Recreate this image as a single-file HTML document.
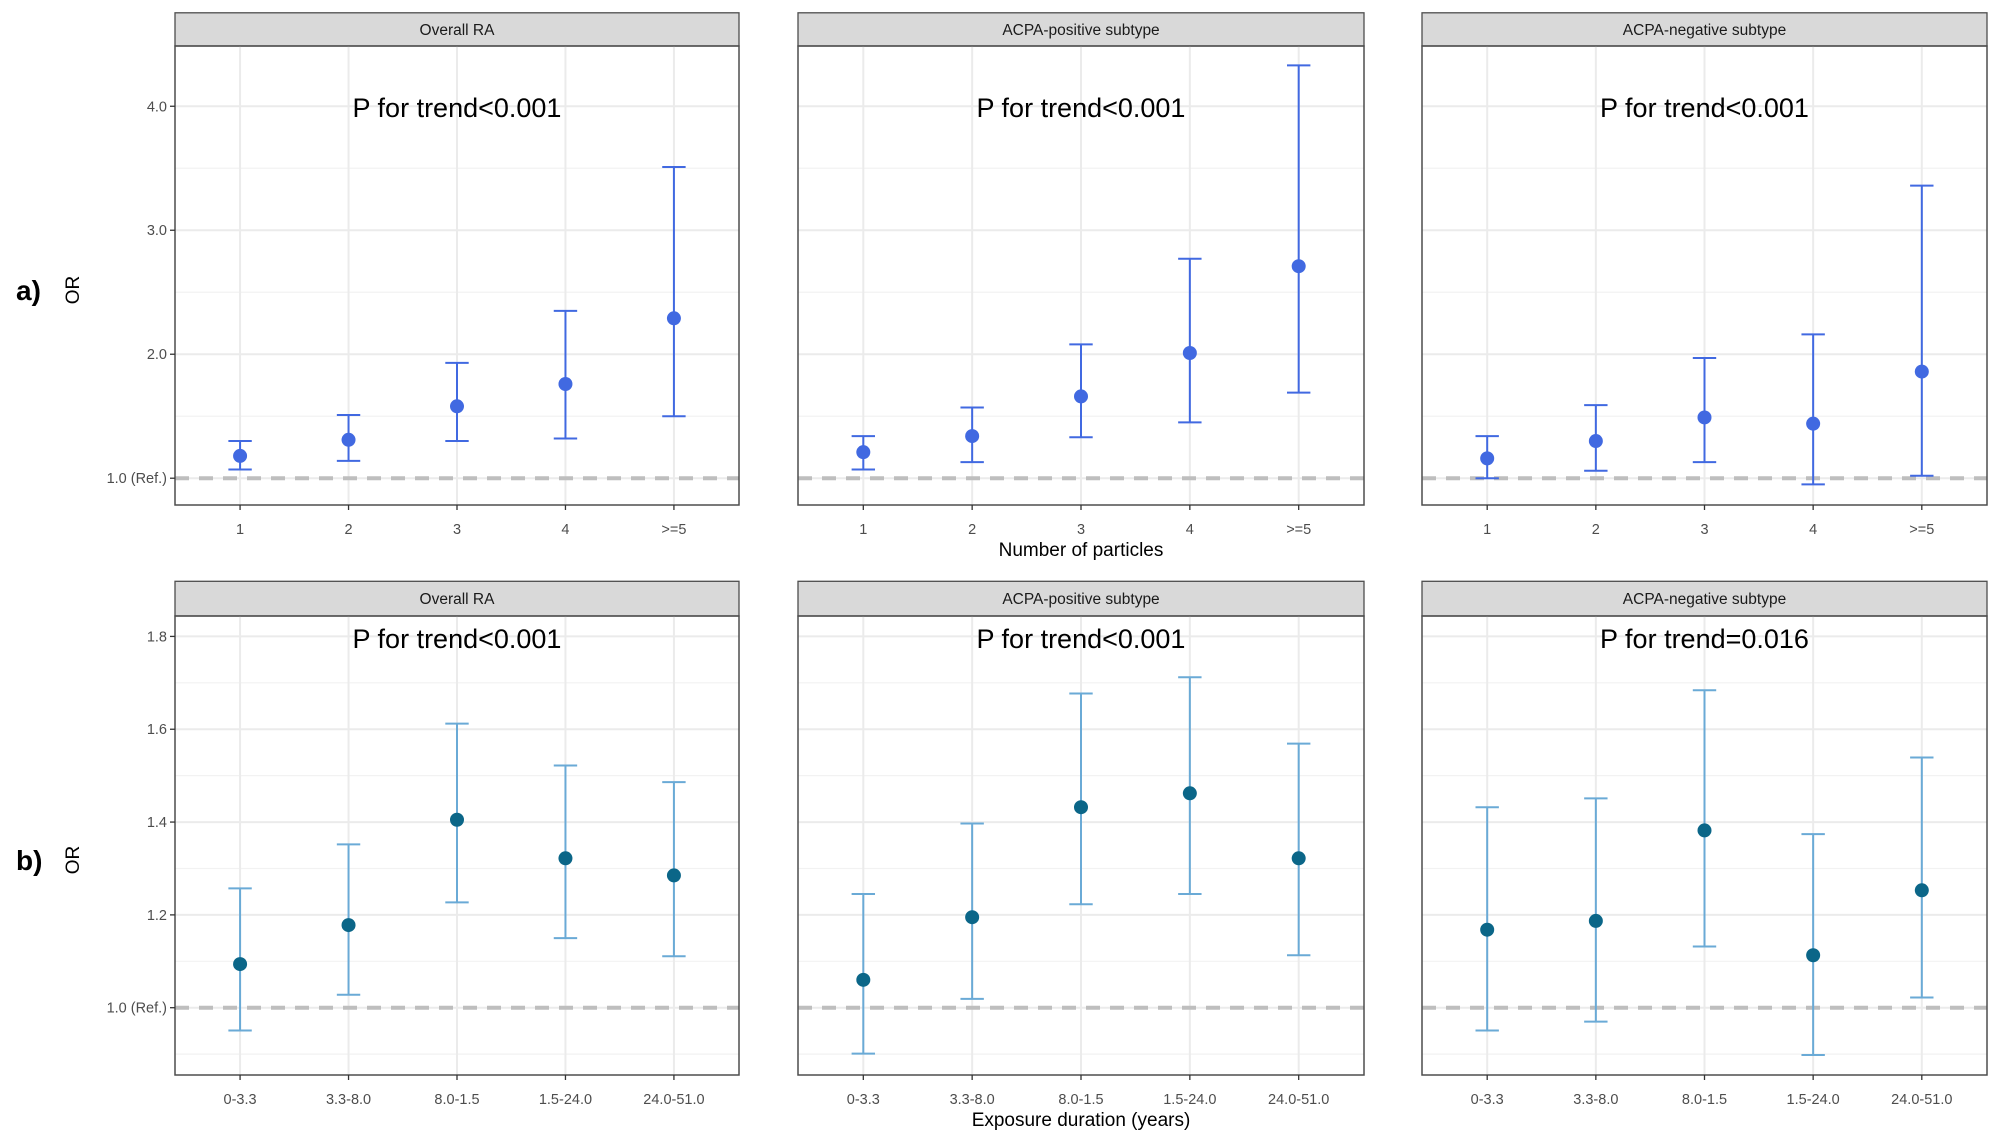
<!DOCTYPE html>
<html><head><meta charset="utf-8">
<style>
html,body{margin:0;padding:0;background:#fff;}
svg{display:block;font-family:"Liberation Sans",Arial,sans-serif;}
</style></head>
<body>
<svg id="chart" width="2000" height="1145" viewBox="0 0 2000 1145" xmlns="http://www.w3.org/2000/svg">
<rect width="2000" height="1145" fill="#fff"/>
<g id="root"></g>
</svg>
<script>
// ---- data ----
const panelTitles = ["Overall RA", "ACPA-positive subtype", "ACPA-negative subtype"];
const catsA = ["1", "2", "3", "4", ">=5"];
const catsB = ["0-3.3", "3.3-8.0", "8.0-1.5", "1.5-24.0", "24.0-51.0"];
const ticksA = [1.0, 2.0, 3.0, 4.0];
const tickLabelsA = ["1.0 (Ref.)", "2.0", "3.0", "4.0"];
const minorA = [1.5, 2.5, 3.5];
const ticksB = [1.0, 1.2, 1.4, 1.6, 1.8];
const tickLabelsB = ["1.0 (Ref.)", "1.2", "1.4", "1.6", "1.8"];
const minorB = [0.9, 1.1, 1.3, 1.5, 1.7];
const pTextA = ["P for trend<0.001", "P for trend<0.001", "P for trend<0.001"];
const pTextB = ["P for trend<0.001", "P for trend<0.001", "P for trend=0.016"];
// Row a) Number of particles
const orA_overall = [1.18, 1.31, 1.58, 1.76, 2.29];
const loA_overall = [1.07, 1.14, 1.30, 1.32, 1.50];
const hiA_overall = [1.30, 1.51, 1.93, 2.35, 3.51];
const orA_pos = [1.21, 1.34, 1.66, 2.01, 2.71];
const loA_pos = [1.07, 1.13, 1.33, 1.45, 1.69];
const hiA_pos = [1.34, 1.57, 2.08, 2.77, 4.33];
const orA_neg = [1.16, 1.30, 1.49, 1.44, 1.86];
const loA_neg = [1.00, 1.06, 1.13, 0.95, 1.02];
const hiA_neg = [1.34, 1.59, 1.97, 2.16, 3.36];
// Row b) Exposure duration
const orB_overall = [1.094, 1.178, 1.405, 1.322, 1.285];
const loB_overall = [0.951, 1.028, 1.227, 1.150, 1.111];
const hiB_overall = [1.257, 1.352, 1.612, 1.522, 1.486];
const orB_pos = [1.060, 1.195, 1.432, 1.462, 1.322];
const loB_pos = [0.901, 1.019, 1.223, 1.245, 1.113];
const hiB_pos = [1.245, 1.397, 1.677, 1.712, 1.569];
const orB_neg = [1.168, 1.187, 1.382, 1.113, 1.253];
const loB_neg = [0.951, 0.970, 1.132, 0.898, 1.022];
const hiB_neg = [1.432, 1.451, 1.684, 1.374, 1.539];

// ---- layout ----
const NS = "http://www.w3.org/2000/svg";
const root = document.getElementById("root");
function mk(tag, attrs, parent, text) {
  const e = document.createElementNS(NS, tag);
  for (const k in attrs) e.setAttribute(k, attrs[k]);
  if (text !== undefined) e.textContent = text;
  (parent || root).appendChild(e);
  return e;
}
const panelX = [[175, 739], [798, 1364], [1422, 1987]];
const rows = [
  {stripTop: 12.8, top: 46, bottom: 505, vTop: 4.486, vBot: 0.784, cats: catsA, ticks: ticksA, tickLabels: tickLabelsA, minor: minorA, pText: pTextA, pY: 108,
   series: [[orA_overall, loA_overall, hiA_overall], [orA_pos, loA_pos, hiA_pos], [orA_neg, loA_neg, hiA_neg]],
   bar: "#4169e1", pt: "#4169e1", xLabY: 529, title: "Number of particles", titleY: 556, label: "a)", labelY: 290, name: "a"},
  {stripTop: 581.3, top: 616, bottom: 1075, vTop: 1.844, vBot: 0.855, cats: catsB, ticks: ticksB, tickLabels: tickLabelsB, minor: minorB, pText: pTextB, pY: 639,
   series: [[orB_overall, loB_overall, hiB_overall], [orB_pos, loB_pos, hiB_pos], [orB_neg, loB_neg, hiB_neg]],
   bar: "#6aaad6", pt: "#0b6688", xLabY: 1099, title: "Exposure duration (years)", titleY: 1126, label: "b)", labelY: 860, name: "b"}
];

rows.forEach(function(r) {
  const g = mk("g", {});
  
  
  const yS = v => r.bottom - (v - r.vBot) / (r.vTop - r.vBot) * (r.bottom - r.top);
  panelX.forEach(function(px, pi) {
    const x0 = px[0], x1 = px[1];
    const step = (x1 - x0) / 5.2;
    const xS = i => x0 + step * (0.6 + i);
    const pg = mk("g", {}, g);
    
    
    // strip
    const st = mk("rect", {x: x0, y: r.stripTop, width: x1 - x0, height: r.top - r.stripTop, fill: "#d9d9d9", stroke: "#4d4d4d", "stroke-width": 1.3}, pg);
    
    
    const stt = mk("text", {x: (x0 + x1) / 2, y: (r.stripTop + r.top) / 2 + 5.5, "text-anchor": "middle", "font-size": 15.5, fill: "#1a1a1a"}, pg, panelTitles[pi]);
    
    
    // grid
    r.minor.forEach(function(v) {
      const y = yS(v);
      if (y > r.top && y < r.bottom) {
        const l = mk("line", {x1: x0, x2: x1, y1: y, y2: y, stroke: "#f2f2f2", "stroke-width": 1.2}, pg);
        
        
      }
    });
    r.ticks.forEach(function(v) {
      const l = mk("line", {x1: x0, x2: x1, y1: yS(v), y2: yS(v), stroke: "#ebebeb", "stroke-width": 2}, pg);
      
      
    });
    r.cats.forEach(function(c, i) {
      const l = mk("line", {x1: xS(i), x2: xS(i), y1: r.top, y2: r.bottom, stroke: "#ebebeb", "stroke-width": 2}, pg);
      
      
    });
    // reference line
    const ref = mk("line", {x1: x0, x2: x1, y1: yS(1), y2: yS(1), stroke: "#bebebe", "stroke-width": 4, "stroke-dasharray": "14 10"}, pg);
    
    
    // series
    const s = r.series[pi];
    s[0].forEach(function(v, i) {
      const cx = xS(i), cw = 11.7;
      const eg = mk("g", {}, pg);
      
      
      mk("line", {x1: cx, x2: cx, y1: yS(s[1][i]), y2: yS(s[2][i]), stroke: r.bar, "stroke-width": 2}, eg);
      mk("line", {x1: cx - cw, x2: cx + cw, y1: yS(s[1][i]), y2: yS(s[1][i]), stroke: r.bar, "stroke-width": 2}, eg);
      mk("line", {x1: cx - cw, x2: cx + cw, y1: yS(s[2][i]), y2: yS(s[2][i]), stroke: r.bar, "stroke-width": 2}, eg);
      const p = mk("circle", {cx: cx, cy: yS(v), r: 7, fill: r.pt}, pg);
      
      
    });
    // border
    const b = mk("rect", {x: x0, y: r.top, width: x1 - x0, height: r.bottom - r.top, fill: "none", stroke: "#4d4d4d", "stroke-width": 1.5}, pg);
    
    
    // p text
    const pt = mk("text", {x: (x0 + x1) / 2, y: r.pY + 9, "text-anchor": "middle", "font-size": 27, fill: "#000"}, pg, r.pText[pi]);
    
    
    // x ticks
    r.cats.forEach(function(c, i) {
      mk("line", {x1: xS(i), x2: xS(i), y1: r.bottom, y2: r.bottom + 5, stroke: "#333", "stroke-width": 1.3}, pg);
      const t = mk("text", {x: xS(i), y: r.xLabY + 5, "text-anchor": "middle", "font-size": 14.5, fill: "#4d4d4d"}, pg, c);
      
      
    });
    // y ticks on first panel
    if (pi === 0) {
      r.ticks.forEach(function(v, k) {
        mk("line", {x1: x0 - 5, x2: x0, y1: yS(v), y2: yS(v), stroke: "#333", "stroke-width": 1.3}, pg);
        const t = mk("text", {x: x0 - 8, y: yS(v) + 5, "text-anchor": "end", "font-size": 14.5, fill: "#4d4d4d"}, pg, r.tickLabels[k]);
        
        
      });
    }
  });
  const xt = mk("text", {x: 1081, y: r.titleY, "text-anchor": "middle", "font-size": 19, fill: "#000"}, g, r.title);
  
  
  const yt = mk("text", {x: 0, y: 0, "text-anchor": "middle", "font-size": 19, fill: "#000", transform: "translate(79," + r.labelY + ") rotate(-90)"}, g, "OR");
  
  
  const lb = mk("text", {x: 16, y: r.labelY + 10, "font-size": 28, "font-weight": "bold", fill: "#000"}, g, r.label);
  
  
});
</script>
</body></html>
